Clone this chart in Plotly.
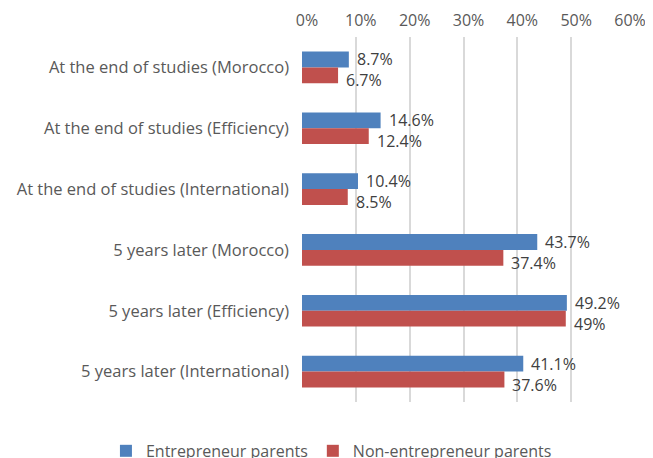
import plotly.graph_objects as go

categories = [
    "At the end of studies (Morocco)",
    "At the end of studies (Efficiency)",
    "At the end of studies (International)",
    "5 years later (Morocco)",
    "5 years later (Efficiency)",
    "5 years later (International)",
]
entrepreneur = [8.7, 14.6, 10.4, 43.7, 49.2, 41.1]
entrepreneur_labels = ["8.7%", "14.6%", "10.4%", "43.7%", "49.2%", "41.1%"]
non_entrepreneur = [6.7, 12.4, 8.5, 37.4, 49.0, 37.6]
non_entrepreneur_labels = ["6.7%", "12.4%", "8.5%", "37.4%", "49%", "37.6%"]
x_ticks = [0, 10, 20, 30, 40, 50, 60]
x_tick_labels = ["0%", "10%", "20%", "30%", "40%", "50%", "60%"]

FONT = "Open Sans"
GRAY = "#595959"
SIZE = 16

fig = go.Figure()
fig.add_trace(go.Bar(
    y=categories, x=entrepreneur, orientation="h", name="Entrepreneur parents",
    marker=dict(color="#4F81BD", line=dict(width=0)),
))
fig.add_trace(go.Bar(
    y=categories, x=non_entrepreneur, orientation="h", name="Non-entrepreneur parents",
    marker=dict(color="#C0504D", line=dict(width=0)),
))

annotations = []
for cat, v, lab in zip(categories, entrepreneur, entrepreneur_labels):
    annotations.append(dict(x=v, y=cat, text=lab, showarrow=False, xanchor="left",
                            yanchor="middle", xshift=6, yshift=8,
                            font=dict(family=FONT, size=SIZE, color="#404040")))
for cat, v, lab in zip(categories, non_entrepreneur, non_entrepreneur_labels):
    annotations.append(dict(x=v, y=cat, text=lab, showarrow=False, xanchor="left",
                            yanchor="middle", xshift=6, yshift=-13,
                            font=dict(family=FONT, size=SIZE, color="#404040")))

fig.update_layout(
    width=653, height=458,
    margin=dict(l=294, r=36, t=29, b=64, autoexpand=False),
    paper_bgcolor="white", plot_bgcolor="white",
    barmode="group", bargap=0.48, bargroupgap=0,
    font=dict(family=FONT, size=SIZE, color=GRAY),
    showlegend=True,
    legend=dict(orientation="h", x=-0.607, xanchor="left",
                y=-0.134, yanchor="middle",
                font=dict(family=FONT, size=SIZE, color=GRAY),
                traceorder="normal"),
    annotations=annotations,
)
fig.update_xaxes(
    side="top", range=[0, 60], tickmode="array", tickvals=x_ticks, ticktext=x_tick_labels,
    showgrid=True, gridcolor="#D9D9D9", gridwidth=2,
    zeroline=False, showline=False, ticks="",
    ticklabelstandoff=7, ticklabelshift=5,
    tickfont=dict(family=FONT, size=SIZE, color=GRAY),
)
fig.update_yaxes(
    autorange="reversed", showgrid=False, showline=False, ticks="",
    ticklabelstandoff=12,
    tickfont=dict(family=FONT, size=16.5, color=GRAY),
)

fig.write_html("out.html")
